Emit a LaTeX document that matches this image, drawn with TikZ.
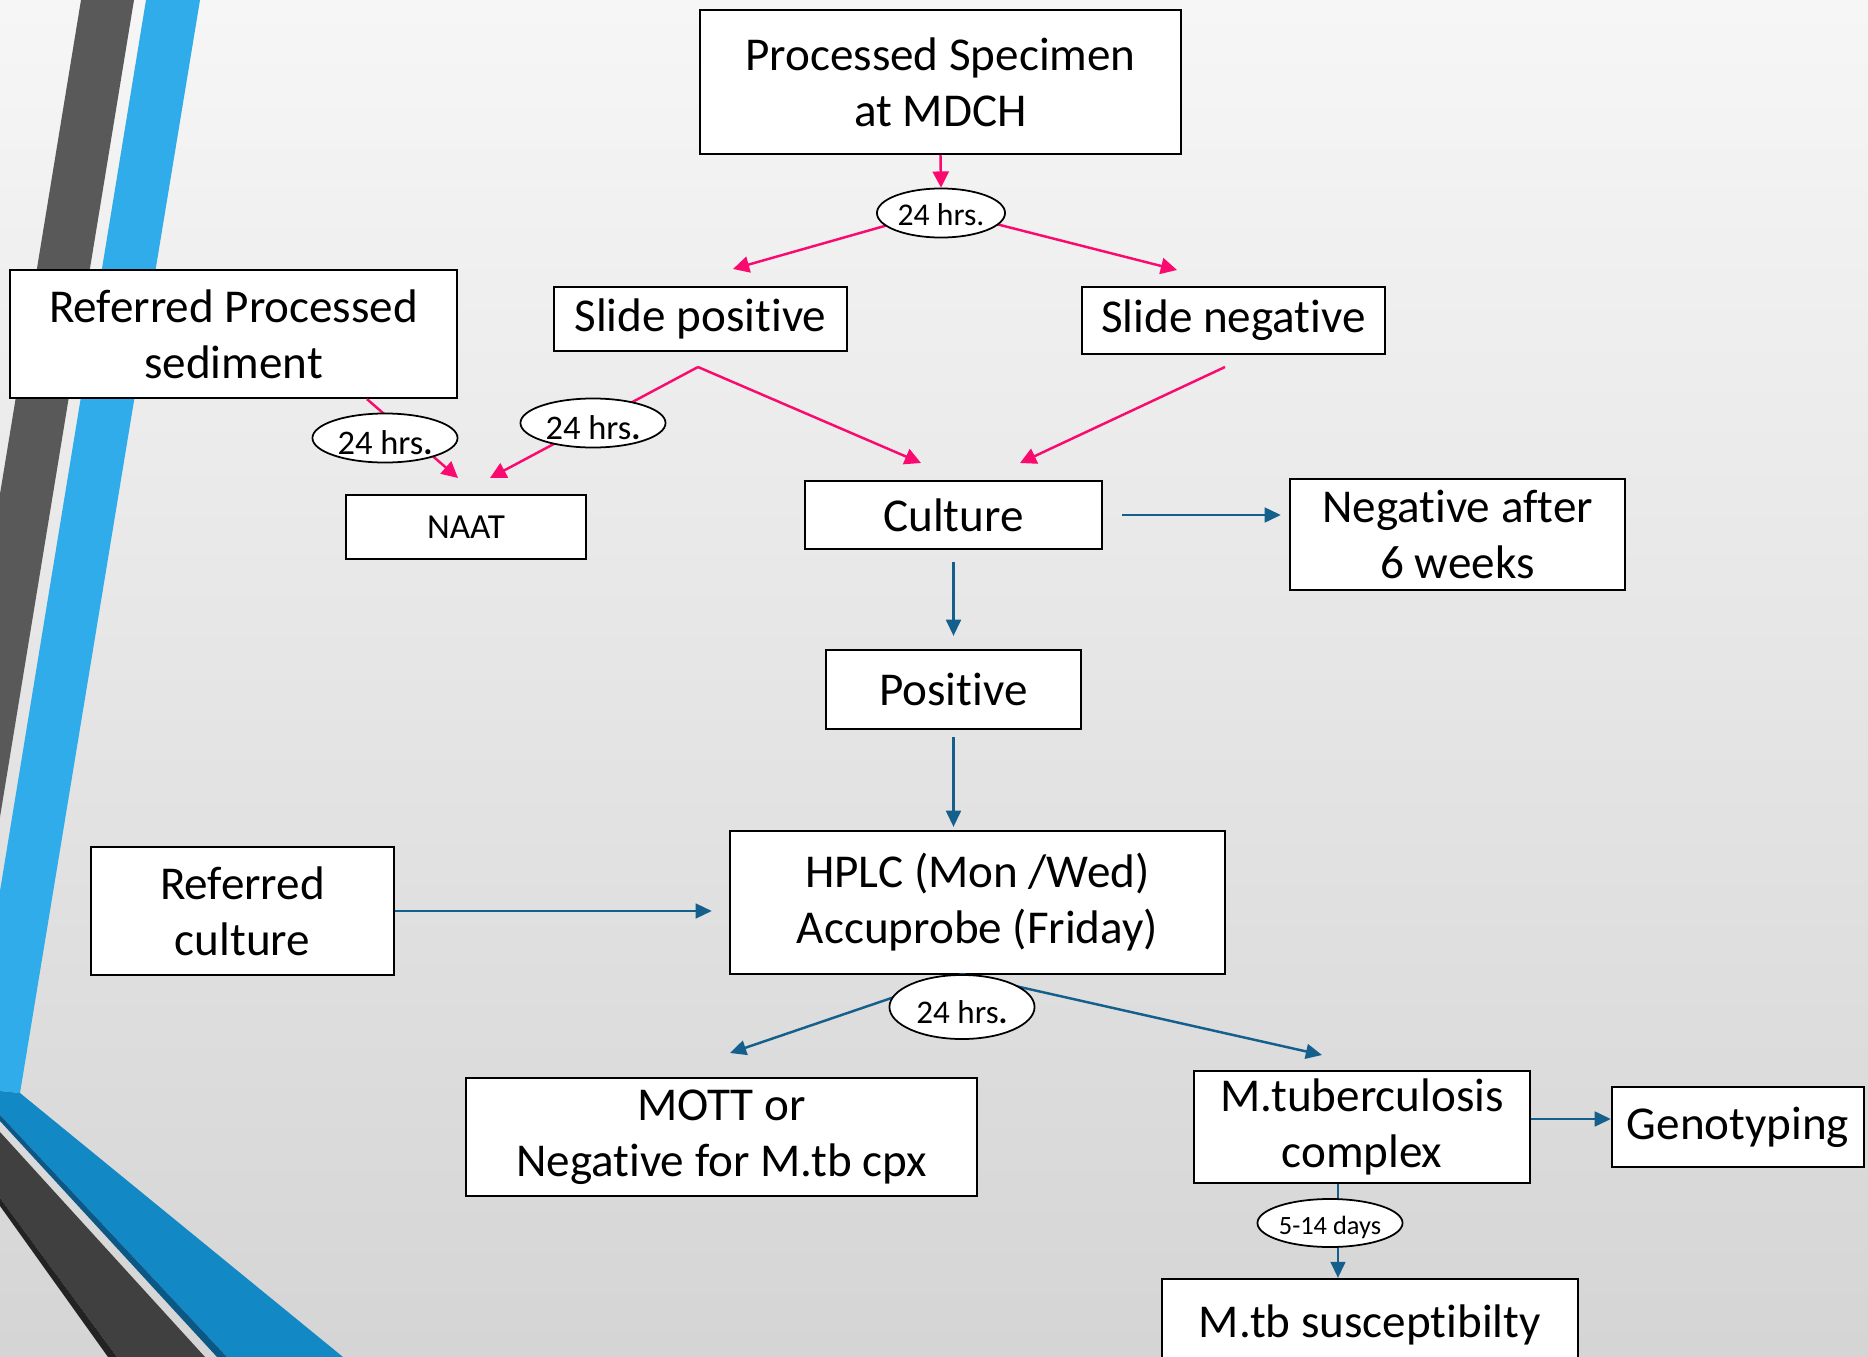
\documentclass[tikz,border=0pt]{standalone}
\usepackage{fontspec}
\setmainfont{Carlito}[Ligatures=NoCommon]
\usetikzlibrary{calc, positioning}
\usetikzlibrary{shapes.geometric}
\usetikzlibrary{arrows.meta}

\definecolor{pinkline}{RGB}{250,10,110}
\definecolor{blueline}{RGB}{20,95,140}
\definecolor{stripegray}{RGB}{89,89,89}
\definecolor{stripeblue}{RGB}{47,172,233}
\definecolor{bandblue}{RGB}{18,136,197}
\definecolor{banddeep}{RGB}{11,88,135}
\definecolor{banddark}{RGB}{64,64,64}
\definecolor{bandblack}{RGB}{35,35,35}

\tikzset{
  box/.style={draw=black, fill=white, line width=0.6pt, align=center, inner sep=0pt,
    font=\fontsize{13.4}{15.9}\selectfont},
  dur/.style={ellipse, draw=black, fill=white, line width=0.5pt, inner sep=0pt,
    minimum width=1.45cm, minimum height=0.49cm, text height=9.5pt, text depth=0pt,
    font=\fontsize{9.8}{11}\selectfont},
  pinkarrow/.style={draw=pinkline, line width=0.7pt, -{Triangle[length=4.6pt,width=4.6pt]}},
  blueline/.style={draw=blueline, line width=0.7pt},
  bluearrow/.style={blueline, -{Triangle[length=4.6pt,width=4.2pt]}}
}

\begin{document}
\begin{tikzpicture}[x=0.01cm, y=-0.01cm]
\useasboundingbox (0,0) rectangle (1868,1357);

% background
\shade[top color=gray!7, bottom color=gray!33] (0,0) rectangle (1868,1357);
\fill[stripegray] (81,0) -- (134,0) -- (0,817) -- (0,494) -- cycle;
\fill[stripeblue] (146,0) -- (200,0) -- (20,1093) -- (0,1091) -- (0,891) -- cycle;
\fill[bandblue] (0,1091) -- (20,1093) -- (343,1357) -- (227,1357) -- (0,1115) -- cycle;
\fill[banddeep] (0,1115) -- (227,1357) -- (217,1357) -- (0,1121) -- cycle;
\fill[banddark] (0,1132) -- (205,1357) -- (117,1357) -- (0,1198) -- cycle;
\fill[bandblack] (0,1198) -- (117,1357) -- (108,1357) -- (0,1206) -- cycle;

% boxes
\node[box, minimum width=4.81cm, minimum height=1.44cm] (spec) at (940.5,82) {Processed Specimen\\at MDCH};
\node[box, minimum width=2.93cm, minimum height=0.64cm] (slidepos) at (700.5,319) {Slide positive};
\node[box, minimum width=3.03cm, minimum height=0.67cm] (slideneg) at (1233.5,320.5) {Slide negative};
\node[box, minimum width=4.47cm, minimum height=1.28cm] (refsed) at (233.5,334) {Referred Processed\\sediment};
\node[box, minimum width=2.40cm, minimum height=0.64cm, font=\fontsize{10}{12}\selectfont] (naat) at (466,527) {NAAT};
\node[box, minimum width=2.97cm, minimum height=0.68cm] (culture) at (953.5,515) {Culture};
\node[box, minimum width=3.35cm, minimum height=1.11cm] (neg6) at (1457.5,534.5) {Negative after\\6 weeks};
\node[box, minimum width=2.55cm, minimum height=0.79cm] (positive) at (953.5,689.5) {Positive};
\node[box, minimum width=4.95cm, minimum height=1.43cm] (hplc) at (977.5,902.5) {HPLC (Mon /Wed)\\Accuprobe (Friday)};
\node[box, minimum width=3.02cm, minimum height=1.28cm] (refcul) at (242.5,911) {Referred\\culture};
\node[box, minimum width=5.11cm, minimum height=1.18cm] (mott) at (721.5,1137) {MOTT or\\Negative for M.tb cpx};
\node[box, minimum width=3.35cm, minimum height=1.12cm] (mtc) at (1362,1127) {M.tuberculosis\\complex};
\node[box, minimum width=2.52cm, minimum height=0.80cm] (geno) at (1738,1127) {Genotyping};
\node[box, minimum width=4.16cm, minimum height=0.92cm] (susc) at (1370,1325) {M.tb susceptibilty};

% fork points and arrow tips
\coordinate (hubA) at (941,210);
\coordinate (tipSP) at (733,269);
\coordinate (tipSN) at (1177,270);
\coordinate (forkSP) at (698,367);
\coordinate (forkSN) at (1225,367);
\coordinate (tipNL) at (458,478);
\coordinate (tipNR) at (490,478);
\coordinate (tipCL) at (921,463);
\coordinate (tipCR) at (1020,463);
\coordinate (hubB) at (962,974);
\coordinate (tipMO) at (730,1053);
\coordinate (tipMT) at (1322,1055);

% pink connectors
\draw[pinkarrow] (hubA) -- (tipSP);
\draw[pinkarrow] (hubA) -- (tipSN);
\draw[pinkarrow] (refsed.-26) -- (tipNL);
\draw[pinkarrow] (forkSP) -- (tipNR);
\draw[pinkarrow] (forkSP) -- (tipCL);
\draw[pinkarrow] (forkSN) -- (tipCR);

% blue connectors
\draw[bluearrow, shorten <=0.19cm, shorten >=0.08cm] (culture.east) -- (culture.east -| neg6.west);
\draw[bluearrow, shorten <=0.12cm, shorten >=0.13cm] (culture.south) -- (positive.north);
\draw[bluearrow, shorten <=0.07cm, shorten >=0.03cm] (positive.south) -- (positive.south |- hplc.north);
\draw[bluearrow, shorten >=0.17cm] (refcul.east) -- (refcul.east -| hplc.west);
\draw[bluearrow] (hubB) -- (tipMO);
\draw[bluearrow] (hubB) -- (tipMT);
\draw[bluearrow] ([yshift=0.08cm]mtc.east) -- ([yshift=0.08cm]mtc.east -| geno.west);
\draw[bluearrow] ([xshift=-0.24cm]mtc.south) -- ([xshift=-0.24cm]mtc.south |- susc.north);

% time labels
\node[dur, minimum width=1.28cm, text height=7pt, font=\fontsize{9}{11}\selectfont] (e1) at (941,213) {24 hrs.};
\node[dur] (e2) at (385,438) {24 hrs\textbf{.}};
\node[dur] (e3) at (593,423) {24 hrs\textbf{.}};
\node[dur, minimum height=0.64cm, font=\fontsize{9.4}{11}\selectfont] (e4) at (962,1007) {24 hrs\textbf{.}};
\node[dur, minimum height=0.48cm, text height=6.5pt, font=\fontsize{7.5}{9}\selectfont] (e5) at (1330,1223) {5-14 days};

\draw[pinkarrow] (spec.south) -- (e1.north);
\end{tikzpicture}
\end{document}
